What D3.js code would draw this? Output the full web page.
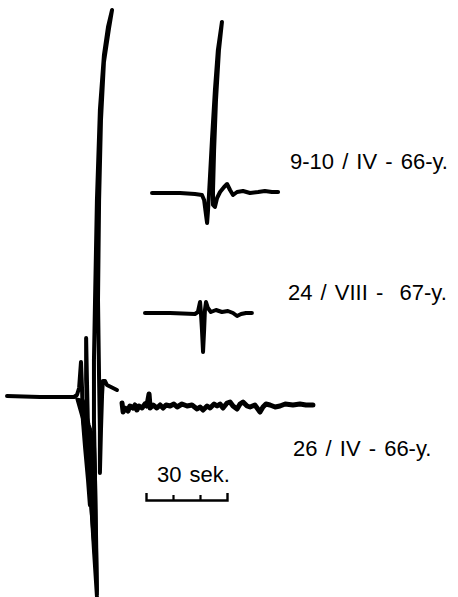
<!DOCTYPE html>
<html>
<head>
<meta charset="utf-8">
<script src="https://cdn.jsdelivr.net/npm/d3@7"></script>
<style>
  body { margin: 0; background: #fff; }
  svg text { font-family: "Liberation Sans", Arial, sans-serif; font-size: 22px; word-spacing: 2px; fill: #000; white-space: pre; }
</style>
</head>
<body>
<div id="chart"></div>
<script>
var svgWidth = 458;
var svgHeight = 597;

// records: [time (s), amplitude (units)]
var record26IV = [
  [2.6, 1], [14.8, 0], [27.4, 0], [28.5, 2], [29.3, 9], [30.0, 35], [30.4, 7], [30.7, -23],
  [31.5, -50], [32.6, -83], [33.3, -108], [32.6, -43], [31.9, 17], [31.9, 59], [32.2, 17],
  [32.6, -33], [33.7, -103], [34.8, -153], [35.9, -199], [35.6, -143], [35.2, -83], [34.8, -23],
  [34.8, 37], [35.2, 97], [35.9, 197], [37.0, 287], [38.5, 342], [40.0, 370], [41.5, 387],
  [40.4, 369], [38.5, 335], [37.4, 277], [36.7, 197], [36.3, 97], [36.7, 17], [37.0, -33],
  [37.0, -76], [37.4, -33], [37.8, 2], [38.1, 16], [38.9, 16], [39.6, 12], [41.1, 10], [43.3, 7]
];

// dense, inked part of the main swing (outline)
var body26IV = [
  [28.1, -1], [30.4, -23], [31.5, -50], [32.6, -83], [34.1, -136], [35.9, -199],
  [36.3, -193], [35.9, -133], [35.6, -73], [35.2, -43], [33.3, -28], [31.1, -3]
];

var coda26IV = [
  [45.2, -6], [45.6, -15], [46.3, -11], [47.4, -14], [48.1, -9], [49.3, -11], [50.0, -8], [50.7, -13],
  [51.5, -9], [52.6, -11], [53.7, -7], [54.4, -9], [55.2, 3], [55.6, -11], [56.7, -8], [58.1, -11],
  [59.3, -8], [60.4, -11], [61.5, -8], [63.0, -9], [64.4, -7], [65.6, -10], [67.4, -7], [69.3, -9],
  [71.1, -8], [73.0, -12], [74.1, -10], [75.2, -13], [76.7, -9], [77.8, -11], [79.3, -7], [80.4, -9],
  [81.5, -7], [82.6, -11], [84.1, -6], [85.2, -5], [86.3, -9], [87.8, -12], [88.9, -7], [90.0, -5],
  [91.5, -9], [92.6, -10], [94.4, -8], [96.3, -15], [97.4, -10], [98.5, -7], [100.0, -8], [101.9, -10],
  [103.7, -9], [105.6, -7], [108.5, -8], [111.1, -7], [113.3, -8], [115.9, -8]
];

var record910IV = [
  [56.3, 0], [66.7, 0], [72.2, -1], [74.8, -2], [75.6, -7], [76.3, -22], [76.7, -30], [77.0, -19],
  [77.4, -2], [77.8, 18], [78.5, 53], [79.6, 103], [80.7, 143], [82.2, 171], [81.1, 143], [80.0, 93],
  [79.3, 43], [78.9, 3], [78.9, -12], [79.6, -14], [80.4, -5], [81.5, 1], [83.0, 6], [84.1, 9],
  [85.2, 3], [86.3, -2], [87.8, 1], [90.0, 2], [92.6, 0], [95.6, 1], [98.1, 2], [100.7, 1], [103.0, 1]
];

var record24VIII = [
  [53.7, 0], [63.0, 0], [72.2, -1], [73.3, 1], [74.1, 11], [74.4, 1], [74.8, -17], [75.2, -39],
  [75.6, -17], [75.9, 3], [76.3, 11], [77.0, 5], [78.1, 1], [80.0, 3], [82.2, 1], [84.4, 2],
  [86.3, 0], [87.8, -3], [89.3, -1], [91.1, 0], [93.3, 0]
];

var traceLabels = ["9-10 / IV - 66-y.", "24 / VIII -  67-y.", "26 / IV - 66-y."];
var barTicks = [0, 10, 20, 30];
var barLabel = "30 sek.";

var svg = d3.select("#chart")
  .append("svg")
  .attr("width", svgWidth)
  .attr("height", svgHeight);

// time and amplitude scales shared by all records
var xTime = d3.scaleLinear().domain([0, 170]).range([0, 459]);
var yAmp = d3.scaleLinear().domain([-200, 400]).range([200, -400]);

var line = d3.line()
  .x(d => xTime(d[0]))
  .y(d => yAmp(d[1]));

function drawTrace(data, baseY, width) {
  svg.append("g")
    .attr("transform", `translate(0, ${baseY})`)
    .append("path")
    .datum(data)
    .attr("d", line)
    .attr("fill", "none")
    .attr("stroke", "#000")
    .attr("stroke-width", width)
    .attr("stroke-linejoin", "round")
    .attr("stroke-linecap", "round");
}

drawTrace(record910IV, 193, 4);
drawTrace(record24VIII, 313, 4);
drawTrace(record26IV, 397, 4);
drawTrace(coda26IV, 397, 5);

svg.append("g")
  .attr("transform", "translate(0, 397)")
  .append("path")
  .datum(body26IV)
  .attr("d", d => line(d) + "Z")
  .attr("fill", "#000")
  .attr("stroke", "#000")
  .attr("stroke-width", 1.5)
  .attr("stroke-linejoin", "round");

// labels
var labelPos = [[290, 169], [288, 300], [293, 456]];
svg.selectAll(".lbl")
  .data(traceLabels)
  .enter()
  .append("text")
  .attr("class", "lbl")
  .attr("x", (d, i) => labelPos[i][0])
  .attr("y", (d, i) => labelPos[i][1])
  .text(d => d);

// 30 sek scale bar
var barScale = d3.scaleLinear().domain([0, 30]).range([146, 227]);
var barAxis = d3.axisTop(barScale)
  .tickValues(barTicks.slice(1, 3))
  .tickSizeInner(5)
  .tickSizeOuter(7)
  .tickFormat("");

var bar = svg.append("g")
  .attr("transform", "translate(0, 500)")
  .call(barAxis);
bar.select(".domain").attr("stroke", "#000").attr("stroke-width", 2.4);
bar.selectAll(".tick line").attr("stroke", "#000").attr("stroke-width", 2.2);

svg.append("text")
  .attr("x", 157)
  .attr("y", 482)
  .text(barLabel);
</script>
</body>
</html>
